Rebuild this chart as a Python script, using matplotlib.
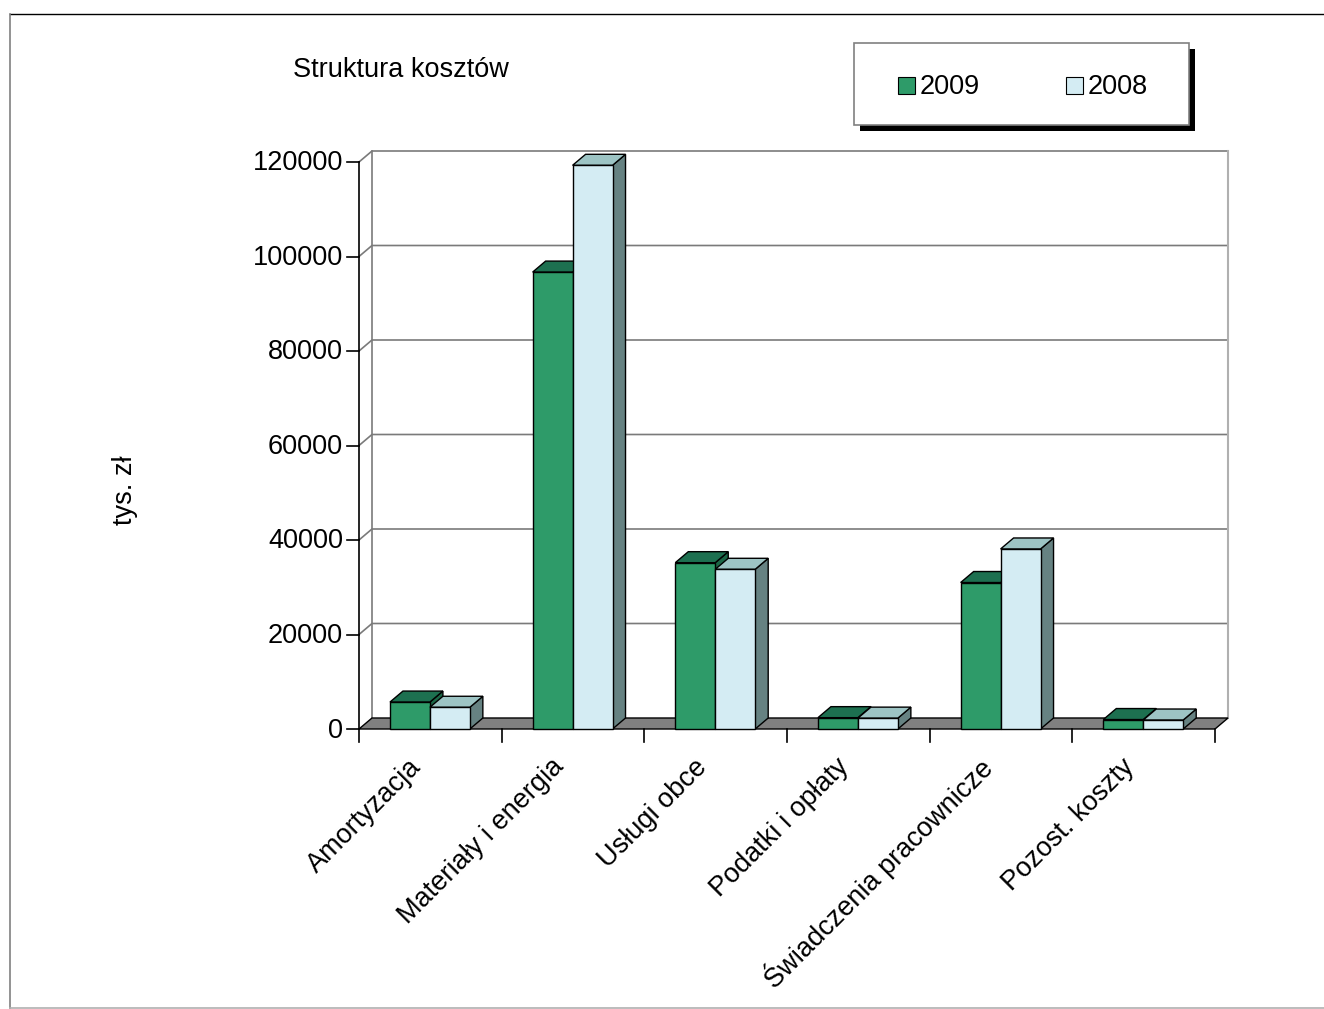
import matplotlib
matplotlib.use('Agg')
import matplotlib.pyplot as plt
from matplotlib.patches import Polygon, Rectangle
from matplotlib.lines import Line2D

categories = ['Amortyzacja', 'Materiały i energia', 'Usługi obce',
              'Podatki i opłaty', 'Świadczenia pracownicze', 'Pozost. koszty']
values_2009 = [5700, 96700, 35200, 2400, 31000, 2000]
values_2008 = [4600, 119300, 33800, 2300, 38100, 1900]
series_labels = ['2009', '2008']
yticks = [0, 20000, 40000, 60000, 80000, 100000, 120000]

plt.rcParams['font.family'] = ['Liberation Sans', 'DejaVu Sans']
fs = 19.5

W, H = 1324, 1009
fig = plt.figure(figsize=(W / 100, H / 100), dpi=100)

# pixel helpers for figure-level stuff
def fx(px):
    return px / W

def fy(py):
    return 1 - py / H

x0, y0 = 359, 729          # origin of the front axis in pixels
px_cat = 142.67            # pixels per category
px_val = 4.725 / 1000      # pixels per value unit
dx = 13 / px_cat           # depth offset (data units)
dy = 11 / px_val
xmax, ymax = 6.1, 122500
ax = fig.add_axes([fx(x0), fy(y0), xmax * px_cat / W, ymax * px_val / H])
ax.set_xlim(0, xmax)
ax.set_ylim(0, ymax)
ax.axis('off')

grid_c = '#7a7a7a'
ncat = len(categories)

# back wall grid + left wall diagonals
for v in yticks[1:]:
    ax.plot([0, dx, ncat + dx], [v, v + dy, v + dy], color=grid_c, lw=1.2, zorder=1, clip_on=False)
ax.plot([dx, dx], [dy, yticks[-1] + dy], color=grid_c, lw=1.2, zorder=1, clip_on=False)
ax.plot([ncat + dx, ncat + dx], [dy, yticks[-1] + dy], color='#b0b0b0', lw=1.5, zorder=1, clip_on=False)

# floor
ax.add_patch(Polygon([(0, 0), (ncat, 0), (ncat + dx, dy), (dx, dy)], closed=True,
                     fc='#808080', ec='black', lw=1, zorder=2, clip_on=False))

# front y axis and ticks
ax.plot([0, 0], [0, yticks[-1]], color='black', lw=1.2, zorder=3, clip_on=False)
for v in yticks:
    ax.plot([-12 / px_cat, 0], [v, v], color='black', lw=1.2, zorder=3, clip_on=False)
    ax.text(-16 / px_cat, v - 1.5 / px_val, str(v), ha='right', va='center', fontsize=fs)

# category ticks + labels
for i in range(ncat + 1):
    ax.plot([i, i], [0, -13 / px_val], color='black', lw=1.2, zorder=3, clip_on=False)
for i, c in enumerate(categories):
    ax.text(i + 0.5 - 13 / px_cat, -34 / px_val, c, rotation=45, rotation_mode='anchor',
            ha='right', va='center', fontsize=fs)


def bar3d(x, w, h, cf, ct, cs, z):
    front = [(x, 0), (x + w, 0), (x + w, h), (x, h)]
    top = [(x, h), (x + w, h), (x + w + dx, h + dy), (x + dx, h + dy)]
    side = [(x + w, 0), (x + w + dx, dy), (x + w + dx, h + dy), (x + w, h)]
    for pts, c in [(side, cs), (top, ct), (front, cf)]:
        ax.add_patch(Polygon(pts, closed=True, fc=c, ec='black', lw=1, zorder=z, clip_on=False))


green = ('#2E9B69', '#1D7050', '#1B6646')
light = ('#D4ECF3', '#9DC4C4', '#668282')
bw = 0.28
for i in range(ncat):
    bar3d(i + 0.217, bw, values_2009[i], *green, z=4 + i * 2)
    bar3d(i + 0.217 + bw, bw, values_2008[i], *light, z=5 + i * 2)

# title and y label
fig.text(fx(293), fy(70), 'Struktura kosztów', ha='left', va='center', fontsize=fs)
fig.text(fx(125), fy(490), 'tys. zł', rotation=90, ha='center', va='center', fontsize=fs)

# legend with hard shadow
fig.add_artist(Rectangle((fx(860), fy(131)), fx(1195) - fx(860), fy(49) - fy(131),
                         transform=fig.transFigure, fc='black', ec='none'))
fig.add_artist(Rectangle((fx(854), fy(125)), fx(1189) - fx(854), fy(43) - fy(125),
                         transform=fig.transFigure, fc='white', ec='#808080', lw=1.2))
for lx, lab, col in [(898, series_labels[0], green[0]), (1066, series_labels[1], light[0])]:
    fig.add_artist(Rectangle((fx(lx), fy(94)), fx(17), fy(77) - fy(94),
                             transform=fig.transFigure, fc=col, ec='black', lw=0.8))
    fig.text(fx(lx + 22), fy(87), lab, ha='left', va='center', fontsize=fs)

# outer frame
fig.add_artist(Line2D([fx(10), 1], [fy(14), fy(14)], transform=fig.transFigure, color='black', lw=1))
fig.add_artist(Line2D([fx(10), fx(10)], [fy(14), fy(1008)], transform=fig.transFigure, color='#808080', lw=1.2))
fig.add_artist(Line2D([fx(10), 1], [fy(1008), fy(1008)], transform=fig.transFigure, color='#b0b0b0', lw=1.2))

plt.savefig('out.png', dpi=100)
